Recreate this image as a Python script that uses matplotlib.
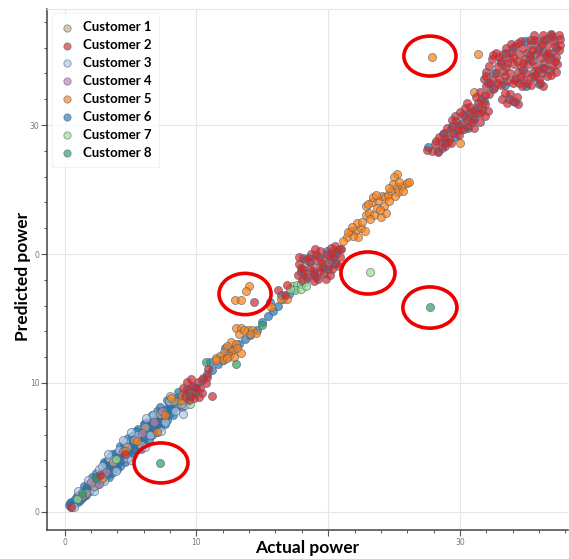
import matplotlib
matplotlib.use("Agg")
from matplotlib import pyplot as plt
from matplotlib.patches import Ellipse
from matplotlib.ticker import FixedLocator, FixedFormatter, MultipleLocator
import numpy as np

# actual vs predicted power, one point cloud per customer
cust1 = np.array([[8.3, 8.6], [8.8, 8.4], [6.1, 6.6], [5.3, 5.6], [3.7, 3.9], [2.2, 2.0],
                  [7.2, 7.6], [4.7, 5.0], [1.6, 1.5], [8.0, 9.0], [9.6, 9.2]])

cust2 = np.array([
    # low end
    [0.5, 0.4], [2.7, 2.9], [4.6, 4.5],
    # around 10
    [9.1, 9.0], [9.3, 9.5], [9.5, 9.0], [9.7, 9.8], [9.9, 9.3], [10.1, 10.1], [10.3, 9.6],
    [10.5, 10.4], [10.7, 10.0], [10.2, 8.9], [9.6, 10.3], [9.4, 8.7], [10.8, 10.5],
    [10.0, 9.6], [9.0, 9.6], [11.2, 9.0], [9.8, 8.8], [10.4, 9.2], [9.3, 10.1],
    [10.9, 11.1], [16.2, 17.2], [16.7, 16.8], [14.4, 16.3], [16.9, 17.6],
    # around 19
    [17.7, 18.4], [17.8, 19.2], [17.8, 19.8], [18.1, 18.8], [18.3, 19.5], [18.4, 18.2],
    [18.6, 19.0], [18.7, 20.0], [18.9, 18.4], [19.0, 19.5], [19.2, 18.1], [19.3, 19.0],
    [19.4, 20.2], [19.6, 19.6], [19.7, 18.5], [19.9, 20.0], [20.0, 19.1], [20.2, 20.5],
    [20.3, 18.8], [20.4, 19.8], [20.6, 19.3], [20.7, 20.3], [20.9, 19.8], [21.0, 20.4],
    [18.9, 17.9], [19.8, 18.1], [19.4, 18.7], [18.2, 18.5], [19.1, 19.9], [20.5, 20.6],
    [20.1, 19.8], [18.5, 19.7], [18.0, 18.0], [18.8, 18.7], [19.5, 19.3], [20.3, 20.1],
    [20.8, 19.1], [19.0, 20.4], [17.9, 18.9], [20.1, 18.4],
    # top end
    [27.5, 28.1], [27.9, 28.0], [28.3, 27.9], [28.6, 28.2], [28.9, 28.4], [29.1, 28.7],
    [28.6, 28.7], [28.1, 28.5], [28.4, 29.1], [28.8, 29.4], [29.2, 29.0], [29.5, 29.4],
    [29.0, 29.8], [29.4, 29.9], [29.8, 29.7], [30.1, 30.1], [29.7, 30.3], [30.3, 29.7],
    [30.5, 30.4], [30.2, 30.8], [30.7, 30.9], [31.0, 30.5], [31.1, 31.2], [30.8, 31.4],
    [31.4, 31.7], [31.7, 31.2], [31.6, 32.0], [31.9, 32.3], [31.2, 32.2], [30.4, 31.3],
    [29.9, 29.2], [30.6, 29.9], [28.9, 29.0], [29.6, 30.7], [31.3, 30.9], [30.0, 31.0],
    [28.2, 28.8], [29.3, 28.6], [30.0, 29.6], [30.9, 30.2], [31.5, 30.9], [30.5, 31.7],
    [31.9, 31.6], [29.4, 30.4], [31.5, 30.2], [31.9, 30.7], [31.1, 29.8], [32.1, 31.1],
    [33.2, 32.0], [33.6, 31.7], [34.0, 31.9], [34.3, 32.2], [33.8, 32.4], [33.4, 32.5],
    [34.4, 31.6], [31.5, 32.6], [32.2, 32.4],
    [32.0, 33.0], [32.6, 32.9], [33.1, 33.1], [34.7, 33.0], [35.4, 33.1], [36.1, 33.3],
    [31.8, 33.6], [32.4, 33.5], [33.0, 33.6], [33.6, 33.4], [34.2, 33.6], [34.8, 33.5],
    [35.4, 33.7], [36.0, 33.6], [36.6, 33.8],
    [32.0, 34.1], [32.7, 34.0], [33.3, 34.2], [33.8, 34.0], [34.4, 34.1], [35.0, 34.0],
    [35.6, 34.2], [36.2, 34.0], [36.8, 34.3], [37.3, 34.1],
    [32.2, 34.6], [32.9, 34.6], [33.5, 34.5], [34.1, 34.7], [34.6, 34.5], [35.2, 34.7],
    [35.8, 34.6], [36.4, 34.8], [37.0, 34.6],
    [32.4, 35.1], [33.1, 35.0], [33.7, 35.2], [34.3, 35.0], [34.9, 35.1], [35.5, 35.0],
    [36.1, 35.2], [36.7, 35.1], [37.3, 35.3],
    [32.7, 35.6], [33.3, 35.5], [33.9, 35.7], [34.5, 35.5], [35.1, 35.6], [35.7, 35.5],
    [36.3, 35.7], [36.9, 35.6], [37.5, 35.8],
    [33.5, 36.0], [34.2, 36.1], [34.8, 36.0], [35.4, 36.2], [36.0, 36.0], [36.6, 36.2],
    [37.2, 36.1],
    [34.6, 36.5], [35.3, 36.6], [35.9, 36.5], [36.5, 36.7], [37.1, 36.5], [37.6, 36.7],
    [35.6, 37.0], [36.3, 37.0], [36.9, 37.1], [37.5, 37.0],
    [32.3, 33.3], [33.4, 33.8], [34.5, 33.3], [35.7, 33.9], [36.4, 34.4], [33.0, 35.3],
    [34.0, 35.3], [35.3, 35.4], [36.5, 35.4], [34.4, 36.4], [35.6, 36.6], [37.4, 34.7],
    [32.0, 33.8], [32.9, 33.3], [34.0, 33.3], [35.1, 33.3], [36.3, 33.0], [35.9, 34.3],
    [36.9, 33.9], [32.5, 35.4], [33.6, 34.8], [34.8, 34.8], [35.5, 35.8], [36.2, 36.3],
    [37.0, 36.8], [33.9, 36.3], [36.7, 35.6], [34.6, 33.8], [37.2, 35.0], [37.6, 36.2]])

cust3 = np.array([[1.0, 1.6], [1.8, 2.5], [2.6, 3.3], [3.4, 4.2], [4.1, 4.8], [4.6, 5.4],
                  [5.5, 6.0], [2.2, 1.6], [3.0, 2.4], [3.9, 3.2], [4.7, 4.2], [5.8, 5.2],
                  [6.5, 6.0], [7.6, 7.0], [8.4, 7.8], [9.1, 8.3], [6.7, 7.5], [7.9, 8.6],
                  [0.7, 0.4], [9.0, 7.6], [3.3, 4.5], [4.4, 5.6], [5.0, 6.2], [6.2, 7.3],
                  [5.0, 4.0], [6.1, 5.0], [7.3, 6.3], [2.8, 3.6]])

cust4 = np.array([[2.0, 2.3], [3.1, 3.1], [4.4, 4.7], [5.9, 6.1], [6.8, 7.0], [7.4, 7.8],
                  [1.3, 1.2], [2.6, 2.2]])

cust5 = np.array([
    [27.9, 35.3], [31.4, 35.5], [31.1, 32.6], [30.0, 28.6], [31.7, 31.4],
    # 21-26
    [21.4, 21.3], [21.75, 21.8], [22.1, 21.9], [22.5, 22.0], [22.8, 21.8], [22.3, 21.3],
    [21.9, 21.4], [21.5, 21.7], [22.2, 22.4], [21.1, 21.0], [21.8, 22.1], [22.6, 22.5],
    [22.9, 23.0], [23.1, 23.2], [23.5, 23.0], [24.0, 22.9], [22.9, 23.7], [23.3, 24.0],
    [23.8, 24.1], [24.05, 24.5], [24.3, 24.4], [24.55, 24.6], [23.7, 23.6], [24.2, 23.7],
    [23.4, 24.4], [23.2, 22.7], [24.4, 23.2], [23.6, 24.6], [23.9, 23.4], [24.6, 24.1],
    [23.0, 23.9],
    [24.8, 24.9], [25.2, 25.2], [25.6, 25.3], [25.95, 25.5], [25.3, 24.8], [25.06, 24.5],
    [25.7, 24.9], [26.1, 25.55], [25.2, 26.2], [25.0, 26.0], [24.9, 25.4], [25.4, 25.6],
    [24.6, 25.1],
    # 11-15
    [13.0, 14.3], [13.4, 14.3], [13.9, 14.1], [14.25, 14.1], [14.5, 13.9], [13.2, 13.8],
    [14.1, 13.8], [13.6, 14.1],
    [12.6, 13.2], [13.0, 13.0], [12.3, 12.9], [12.7, 12.5], [13.1, 12.7], [12.1, 12.4],
    [12.5, 12.1], [11.8, 12.1], [11.45, 11.9], [12.0, 11.75], [12.3, 11.9], [12.85, 12.0],
    [13.4, 12.3], [11.5, 11.8],
    [14.0, 17.55], [13.74, 17.1], [12.93, 16.4], [13.36, 16.4],
    [16.4, 16.5], [16.9, 16.5], [15.65, 15.9],
    # low end
    [7.6, 7.5], [7.0, 6.2], [4.6, 4.7], [2.8, 2.6], [8.1, 8.8], [8.8, 8.7], [8.9, 9.05],
    [5.5, 5.5]])

cust6 = np.array([
    [0.3, 0.5], [0.5, 0.4], [0.5, 0.8], [0.7, 0.6], [0.8, 1.0], [1.0, 0.8], [1.1, 1.3],
    [1.3, 1.1], [1.4, 1.6], [1.6, 1.3], [1.7, 1.9], [1.9, 1.6], [2.0, 2.2], [2.2, 1.9],
    [2.3, 2.6], [2.5, 2.2], [2.6, 2.9], [2.8, 2.5], [2.9, 3.2], [3.1, 2.8], [3.2, 3.5],
    [3.4, 3.1], [3.5, 3.8], [3.7, 3.4], [3.8, 4.1], [4.0, 3.7], [4.1, 4.4], [4.3, 4.0],
    [4.4, 4.7], [4.6, 4.3], [4.7, 5.0], [4.9, 4.6], [5.0, 5.3], [5.2, 4.9], [5.3, 5.6],
    [5.5, 5.2], [5.6, 5.9], [5.8, 5.5], [5.9, 6.2], [6.1, 5.8], [6.2, 6.5], [6.4, 6.1],
    [6.5, 6.8], [6.7, 6.4], [6.8, 7.1], [7.0, 6.7], [7.1, 7.4], [7.3, 7.0], [7.4, 7.7],
    [7.6, 7.3], [7.7, 8.0], [7.9, 7.6], [8.0, 8.3], [8.2, 7.9], [8.3, 8.6], [8.5, 8.2],
    [8.6, 8.9], [8.8, 8.5], [9.0, 9.1], [9.2, 8.8], [9.4, 9.4], [9.6, 9.1], [9.8, 9.7],
    [10.0, 9.5],
    [3.9, 4.6], [4.5, 5.2], [5.1, 5.9], [5.6, 6.4], [6.3, 7.0], [4.8, 4.2], [5.4, 4.8],
    [6.0, 5.3], [6.6, 6.0], [7.2, 6.6], [2.4, 3.0], [3.0, 3.7], [7.9, 8.5], [8.6, 9.3],
    [1.5, 2.0], [2.1, 2.7], [3.3, 4.0], [4.2, 3.6], [5.7, 5.0], [6.9, 6.3], [7.0, 7.8],
    [7.8, 7.1], [8.9, 8.1], [6.1, 6.9], [5.2, 5.5], [3.6, 3.0],
    [0.4, 0.7], [0.9, 1.2], [1.2, 0.9], [1.5, 1.2], [1.8, 2.2], [2.2, 2.4], [2.7, 2.7],
    [3.0, 3.0], [3.4, 3.6], [3.9, 3.9], [4.3, 4.3], [4.8, 4.8], [5.1, 5.2], [5.5, 5.7],
    [5.9, 5.9], [6.3, 6.3], [6.6, 6.7], [7.0, 7.1], [7.4, 7.3], [7.8, 7.9], [8.1, 8.0],
    [8.5, 8.6], [9.0, 8.8], [9.3, 9.2], [9.7, 9.4], [4.5, 4.5], [6.9, 6.9], [2.4, 2.3],
    [3.0, 3.9], [3.6, 4.5], [4.2, 5.1], [4.8, 5.7], [5.4, 6.3], [6.0, 6.8], [6.6, 7.5],
    [7.2, 8.1], [7.8, 8.7], [3.4, 2.7], [4.0, 3.3], [4.6, 3.9], [5.2, 4.4], [5.8, 4.9],
    [6.4, 5.6], [7.0, 6.2], [7.6, 6.8], [8.2, 7.5],
    # 10-17
    [10.4, 10.2], [10.8, 10.7], [11.2, 11.0], [11.6, 11.5], [12.0, 11.8], [12.4, 12.3],
    [12.8, 12.6], [13.2, 13.0], [13.7, 13.4], [14.1, 13.7], [14.6, 14.1], [15.0, 14.7],
    [15.4, 15.2], [15.8, 15.6], [16.2, 16.0], [16.6, 16.5], [17.0, 16.9], [17.4, 17.3],
    [11.0, 11.6], [12.2, 12.7], [15.6, 16.3], [16.4, 16.8],
    # around 19
    [17.9, 18.6], [18.3, 18.1], [18.6, 19.4], [18.9, 18.5], [19.3, 19.8], [19.6, 19.0],
    [19.9, 20.2], [20.2, 19.5], [20.6, 20.0], [20.9, 20.4], [19.1, 18.2], [20.0, 18.8],
    [18.1, 19.7], [20.5, 19.2],
    # top end
    [27.6, 28.3], [28.3, 28.0], [28.9, 28.6], [28.7, 29.3], [29.3, 29.7], [29.9, 30.0],
    [30.4, 30.6], [30.9, 31.0], [31.4, 31.4], [31.8, 31.9], [29.6, 29.1], [30.6, 29.8],
    [31.1, 30.5],
    [32.1, 33.3], [32.6, 34.0], [33.1, 34.8], [33.5, 35.6], [34.2, 33.5], [34.8, 34.3],
    [35.3, 35.1], [35.9, 35.8], [36.4, 36.6], [36.9, 37.0], [35.6, 33.7], [36.3, 34.4],
    [36.9, 35.2], [37.3, 36.0], [33.4, 33.1], [34.0, 36.0], [34.9, 36.5], [33.7, 32.0],
    [34.2, 31.8], [32.5, 32.8], [35.0, 33.0], [36.0, 33.2]])

cust7 = np.array([[23.2, 18.6], [17.3, 17.5], [17.6, 17.6], [17.9, 17.7], [18.2, 17.8],
                  [17.5, 17.2], [17.9, 17.3], [18.3, 17.5], [17.1, 17.3], [9.5, 8.4],
                  [3.9, 4.1], [0.9, 1.0], [9.3, 8.9]])

cust8 = np.array([[27.7, 15.9], [7.25, 3.8], [15.0, 14.5], [13.0, 11.5], [10.7, 11.6],
                  [1.35, 1.5], [2.4, 2.6]])

names = ["Customer 1", "Customer 2", "Customer 3", "Customer 4",
         "Customer 5", "Customer 6", "Customer 7", "Customer 8"]
data = [cust1, cust2, cust3, cust4, cust5, cust6, cust7, cust8]
colors = ["#c8a882", "#d62728", "#aec7e8", "#c07fa5",
          "#ff7f0e", "#1f77b4", "#98df8a", "#2ca05a"]
# blue goes underneath, red on top
draw_z = [4, 9, 3, 5, 6, 2, 7, 8]

# (x, y, width, height) of the red rings
rings = [(27.72, 35.35, 3.95, 3.1), (13.69, 16.9, 3.95, 3.2), (23.02, 18.53, 4.1, 3.26),
         (27.72, 15.85, 4.1, 3.2), (7.31, 3.8, 4.1, 3.1)]

fig = plt.figure(figsize=(5.69, 5.59), dpi=100)
ax = fig.add_axes([47 / 569, 1 - 530 / 559, 521 / 569, 521 / 559])

handles = []
for pts, name, col, z in zip(data, names, colors, draw_z):
    h = ax.scatter(pts[:, 0], pts[:, 1], s=34, c=col, alpha=0.7,
                   edgecolors="#4f6580", linewidths=0.6, zorder=z, label=name)
    handles.append(h)

for cx, cy, w, hgt in rings:
    ax.add_patch(Ellipse((cx, cy), w, hgt, fill=False, edgecolor="#ee0000",
                         linewidth=2.6, zorder=20))

ax.set_xlim(-1.34, 38.2)
ax.set_ylim(-1.4, 39.0)

ax.xaxis.set_major_locator(FixedLocator([0, 10, 20, 30]))
ax.xaxis.set_major_formatter(FixedFormatter(["0", "10", "", "30"]))
ax.yaxis.set_major_locator(FixedLocator([0, 10, 20, 30]))
ax.yaxis.set_major_formatter(FixedFormatter(["0", "10", "0", "30"]))
ax.xaxis.set_minor_locator(MultipleLocator(2))
ax.yaxis.set_minor_locator(MultipleLocator(2))
ax.tick_params(which="major", length=4, width=0.8, color="#555555",
               labelsize=5.5, labelcolor="#777777", pad=1.5)
ax.tick_params(which="minor", length=2.2, width=0.7, color="#555555")

ax.grid(True, which="major", color="#e6e6e6", linewidth=0.8, zorder=0)
ax.set_axisbelow(True)
ax.spines["left"].set_color("#444444")
ax.spines["bottom"].set_color("#444444")
ax.spines["left"].set_linewidth(1.1)
ax.spines["bottom"].set_linewidth(1.1)
ax.spines["top"].set_color("#e6e6e6")
ax.spines["right"].set_visible(False)

ax.set_xlabel("Actual power", fontsize=12.5, fontweight="bold",
              family=["Lato", "DejaVu Sans"], labelpad=-5)
ax.set_ylabel("Predicted power", fontsize=12.5, fontweight="bold",
              family=["Lato", "DejaVu Sans"])
ax.yaxis.set_label_coords(-0.031, 0.4875)

leg = ax.legend(handles=handles, loc="upper left", bbox_to_anchor=(0.01, 0.992),
                borderaxespad=0, frameon=True, fancybox=False, handlelength=1.0,
                handletextpad=0.7, labelspacing=0.45, borderpad=0.6, markerscale=0.9,
                prop={"family": ["Lato", "DejaVu Sans"], "weight": "bold", "size": 9.5})
leg.get_frame().set_edgecolor("#f0f0f0")
leg.get_frame().set_linewidth(0.8)
for lh in leg.legend_handles:
    lh.set_alpha(0.65)

fig.savefig("out.png", dpi=100)
